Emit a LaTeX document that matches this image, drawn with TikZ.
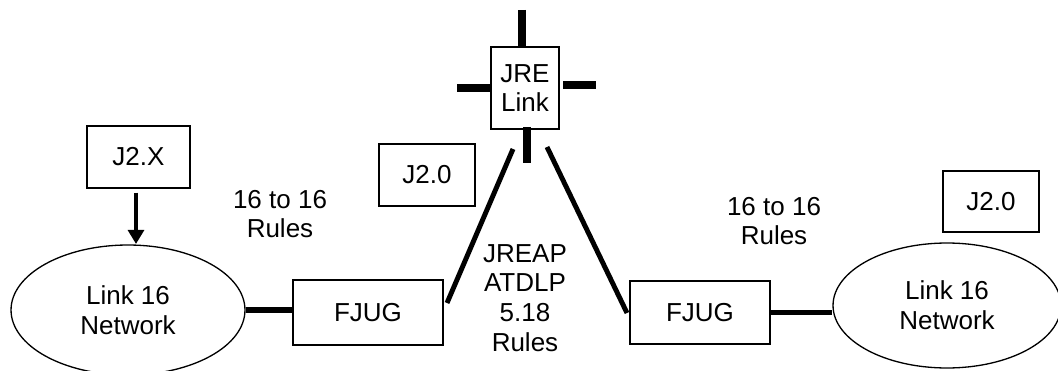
\documentclass[tikz,border=0pt]{standalone}
\usepackage{fontspec}
\setmainfont{Liberation Sans}
\usepackage{tikz}
\usetikzlibrary{shapes.geometric,arrows.meta,positioning}

\begin{document}
\begin{tikzpicture}[
  x=0.02cm, y=-0.02cm,
  font=\fontsize{14.8}{17}\selectfont,
  box/.style={rectangle,draw,line width=0.75pt,inner sep=0pt,align=center},
  net/.style={ellipse,draw,line width=0.75pt,inner sep=0pt,align=center,minimum width=4.6cm,minimum height=2.55cm},
  stub/.style={line width=4pt},
  link/.style={line width=2.8pt},
  wire/.style={line width=3.2pt},
  arr/.style={-{Triangle[length=8pt,width=9pt]},line width=2.3pt},
]
\useasboundingbox (0,0) rectangle (1058,371);

\node[box,minimum width=1.36cm,minimum height=1.64cm] (jre) at (525,88) {JRE\\Link};
\node[box,minimum width=2.06cm,minimum height=1.24cm] (j2x) at (138.5,157) {J2.X};
\node[box,minimum width=1.92cm,minimum height=1.24cm] (j20l) at (427,175) {J2.0};
\node[box,minimum width=1.92cm,minimum height=1.22cm] (j20r) at (991,201.5) {J2.0};
\node[box,minimum width=3.0cm,minimum height=1.3cm] (fjugl) at (368,312.5) {FJUG};
\node[box,minimum width=2.8cm,minimum height=1.26cm] (fjugr) at (700,312.5) {FJUG};
\node[net,minimum width=4.68cm,minimum height=2.6cm] (netl) at (128,310) {Link 16\\Network};
\node[net,minimum width=4.56cm,minimum height=2.5cm] (netr) at (947,305.5) {Link 16\\Network};

\node[align=center] (rulesl) at (280,214) {16 to 16\\Rules};
\node[align=center] (rulesr) at (774,221) {16 to 16\\Rules};
\node[align=center] (jreap) at (525,298) {JREAP\\ATDLP\\5.18\\Rules};

\coordinate (stubn) at (522,10);
\coordinate (stubw) at (457,88);
\coordinate (stube0) at (563,85);
\coordinate (stube) at (596,85);
\coordinate (stubs0) at (527,127);
\coordinate (stubs) at (527,163);
\coordinate (jrel) at (513,149);
\coordinate (jrer) at (547,147);
\coordinate (fjugla) at (447,303);
\coordinate (fjugra) at (627,313);

\draw[stub] (stubn) -- (jre.north -| stubn);
\draw[stub] (stubw) -- (jre.west |- stubw);
\draw[stub] (stube0) -- (stube);
\draw[stub] (stubs0) -- (stubs);

\draw[link] (jrel) -- (fjugla);
\draw[link] (jrer) -- (fjugra);

\draw[wire] (netl.east) -- (fjugl.west |- netl.east);
\draw[wire] (fjugr.east) -- (netr.west |- fjugr.east);

\draw[arr] (j2x.south -| 136,0) ++(0,4) -- (136,244);

\end{tikzpicture}
\end{document}
